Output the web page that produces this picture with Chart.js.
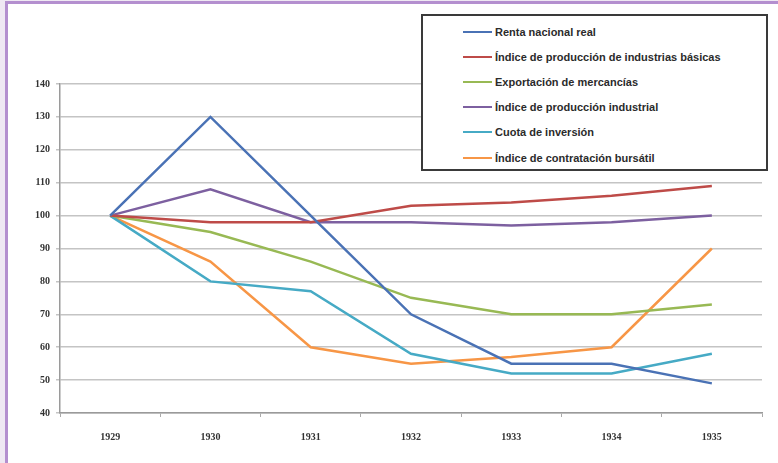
<!DOCTYPE html>
<html>
<head>
<meta charset="utf-8">
<script src="https://cdn.jsdelivr.net/npm/chart.js@4/dist/chart.umd.min.js"></script>
<style>
  body { margin: 0; background: #efe8f3; }
  #wrap { position: relative; width: 778px; height: 463px; overflow: hidden; }
  #frame {
    position: absolute; left: 5px; top: 1px; right: -10px; bottom: -10px;
    border-left: 3px solid #b48fcf; border-top: 3px solid #b48fcf; background: #fff;
  }
  #chart { position: absolute; left: 0; top: 0; }
  #legend {
    position: absolute; left: 421px; top: 14px; width: 343px; height: 150px;
    border: 2px solid #3a3a3a; background: #fff; padding-top: 3px; box-sizing: content-box;
  }
  .row { height: 25.2px; display: flex; align-items: center; padding-left: 40px;
         font: bold 11px "Liberation Sans", Arial, sans-serif; color: #2b2b2b; }
  .swatch { width: 29px; height: 2px; margin-right: 3px; }
</style>
</head>
<body>
<div id="wrap">
  <div id="frame"></div>
  <canvas id="chart" width="778" height="463"></canvas>
  <div id="legend"></div>
</div>
<script>
// Years on the x axis
const years = ["1929", "1930", "1931", "1932", "1933", "1934", "1935"];

// Series names
const seriesNames = [
    "Renta nacional real",
    "Índice de producción de industrias básicas",
    "Exportación de mercancías",
    "Índice de producción industrial",
    "Cuota de inversión",
    "Índice de contratación bursátil"
];

// Values (1929 = 100)
const rentaNacional = [100, 130, 100, 70, 55, 55, 49];
const industriasBasicas = [100, 98, 98, 103, 104, 106, 109];
const exportacion = [100, 95, 86, 75, 70, 70, 73];
const produccionIndustrial = [100, 108, 98, 98, 97, 98, 100];
const cuotaInversion = [100, 80, 77, 58, 52, 52, 58];
const contratacionBursatil = [100, 86, 60, 55, 57, 60, 90];

const colors = ["#4a72b5", "#be4b48", "#98b954", "#7d60a0", "#46aac5", "#f79646"];
const seriesValues = [rentaNacional, industriasBasicas, exportacion, produccionIndustrial, cuotaInversion, contratacionBursatil];

const datasets = seriesNames.map((name, i) => ({
    label: name,
    data: seriesValues[i],
    borderColor: colors[i],
    backgroundColor: colors[i],
    borderWidth: 2.5,
    pointRadius: 0,
    tension: 0,
    fill: false
}));

const tickFont = { family: "'Liberation Serif', serif", size: 10, weight: "bold" };

new Chart(document.getElementById("chart").getContext("2d"), {
    type: "line",
    data: { labels: years, datasets: datasets },
    options: {
        responsive: false,
        animation: false,
        layout: { padding: { left: 0, top: 84, right: 16, bottom: 0 } },
        plugins: { legend: { display: false }, tooltip: { enabled: false } },
        scales: {
            x: {
                offset: true,
                grid: { offset: true, drawOnChartArea: false, drawTicks: true, tickLength: 4, color: "#aaa" },
                border: { color: "#9a9a9a", width: 1.5 },
                ticks: { color: "#333", font: tickFont, padding: 14, maxRotation: 0 },
                afterFit: s => { s.height = 50; }
            },
            y: {
                min: 40,
                max: 140,
                ticks: { stepSize: 10, color: "#333", font: tickFont, padding: 6 },
                grid: { color: "#c4c4c4", lineWidth: 1.5, tickLength: 4 },
                border: { color: "#9a9a9a", width: 1.5 },
                afterFit: s => { s.width = 60; }
            }
        }
    }
});

// Legend box, built from the datasets
const legend = document.getElementById("legend");
datasets.forEach(ds => {
    const row = document.createElement("div");
    row.className = "row";
    const sw = document.createElement("span");
    sw.className = "swatch";
    sw.style.background = ds.borderColor;
    const txt = document.createElement("span");
    txt.textContent = ds.label;
    row.appendChild(sw);
    row.appendChild(txt);
    legend.appendChild(row);
});
</script>
</body>
</html>
